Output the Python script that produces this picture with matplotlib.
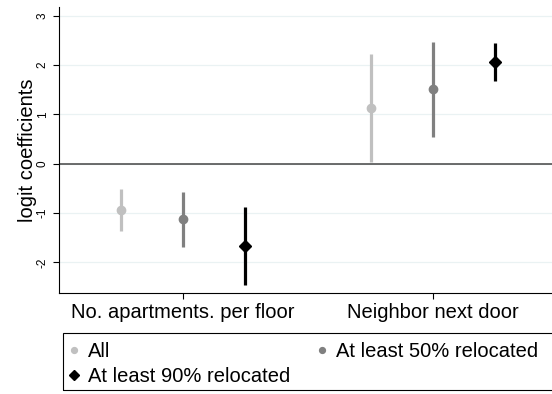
import numpy as np
import matplotlib
matplotlib.use("Agg")
import matplotlib.pyplot as plt
from matplotlib.lines import Line2D
from matplotlib.patches import Rectangle

plt.rcParams['font.family'] = ['Liberation Sans', 'DejaVu Sans']

categories = ["No. apartments. per floor", "Neighbor next door"]
series     = ["All", "At least 50% relocated", "At least 90% relocated"]

coef  = {"All": [-0.93, 1.14], "At least 50% relocated": [-1.12, 1.51], "At least 90% relocated": [-1.67, 2.06]}
lower = {"All": [-1.36, 0.04], "At least 50% relocated": [-1.69, 0.54], "At least 90% relocated": [-2.45, 1.68]}
upper = {"All": [-0.51, 2.22], "At least 50% relocated": [-0.57, 2.48], "At least 90% relocated": [-0.87, 2.45]}

colors  = {"All": "#c0c0c0", "At least 50% relocated": "#808080", "At least 90% relocated": "#000000"}
markers = {"All": "o", "At least 50% relocated": "o", "At least 90% relocated": "D"}
msizes  = {"All": 6, "At least 50% relocated": 6, "At least 90% relocated": 6.5}
offsets = [-0.248, 0.0, 0.248]

W, H = 552, 394
fig = plt.figure(figsize=(W / 100, H / 100), dpi=100)
ax = fig.add_axes([59 / W, 1 - 293 / H, 493 / W, 286 / H])

xpos = np.arange(1, len(categories) + 1)
for s, off in zip(series, offsets):
    x = xpos + off
    y = np.array(coef[s])
    lo = np.array(lower[s]); hi = np.array(upper[s])
    ax.vlines(x, lo, hi, color=colors[s], lw=2.3, zorder=3)
    ax.plot(x, y, ls='none', marker=markers[s], ms=msizes[s], color=colors[s], zorder=4)

ax.axhline(0, color='#444444', lw=1.1, zorder=2)
ax.set_xlim(0.504, 2.476)
ax.set_ylim(-2.62, 3.18)
ax.set_yticks([-2, -1, 0, 1, 2, 3])
ax.set_yticklabels(["-2", "-1", "0", "1", "2", "3"], rotation=90, va='center', fontsize=8.5)
ax.set_xticks(xpos)
ax.set_xticklabels(categories, fontsize=14.5)
ax.grid(axis='y', color='#eaf2f3', lw=0.9, zorder=0)
ax.set_axisbelow(True)
ax.spines['top'].set_visible(False)
ax.spines['right'].set_visible(False)
ax.tick_params(axis='both', length=4, width=0.8, color='black')
ax.tick_params(axis='x', pad=3)
ax.set_ylabel("logit coefficients", fontsize=14.5, labelpad=-0.6)

# legend: row-major order like the original (All, 50% / 90%)
order = ["All", "At least 90% relocated", "At least 50% relocated"]
handles = [Line2D([], [], ls='none', marker=markers[s], ms=4.2 if markers[s] == 'o' else 5,
                  color=colors[s]) for s in order]
fig.add_artist(Rectangle((63 / W, 1 - 390 / H), 520 / W, 57.3 / H, transform=fig.transFigure,
                         fill=False, edgecolor='black', lw=0.8))
fig.legend(handles, order, loc='upper left', bbox_to_anchor=(69 / W, 1 - 342 / H),
           ncol=2, fontsize=14.5, frameon=False, handlelength=0.5, handletextpad=0.45,
           columnspacing=1.3, borderpad=0, borderaxespad=0, labelspacing=0.32)

fig.savefig("out.png", dpi=100)
